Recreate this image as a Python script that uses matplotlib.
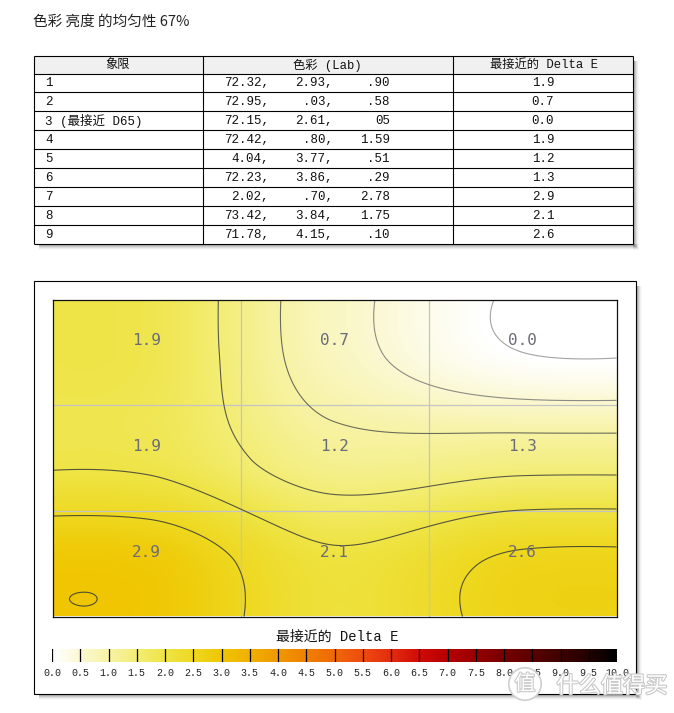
import numpy as np
import matplotlib
matplotlib.use("Agg")
import matplotlib.pyplot as plt
from matplotlib.colors import LinearSegmentedColormap
from matplotlib.patches import Rectangle
import matplotlib.patheffects as pe

# ---------------- data ----------------
title = "色彩 亮度 的均匀性 67%"
header = ["象限", "色彩 (Lab)", "最接近的 Delta E"]
quadrants = ["1", "2", "3 (最接近 D65)", "4", "5", "6", "7", "8", "9"]
lab_L = ["72.32,", "72.95,", "72.15,", "72.42,", "4.04,", "72.23,", "2.02,", "73.42,", "71.78,"]
lab_a = ["2.93,", ".03,", "2.61,", ".80,", "3.77,", "3.86,", ".70,", "3.84,", "4.15,"]
lab_b = [".90", ".58", "05", "1.59", ".51", ".29", "2.78", "1.75", ".10"]
delta_e = [1.9, 0.7, 0.0, 1.9, 1.2, 1.3, 2.9, 2.1, 2.6]
contour_levels = [0.0, 0.5, 1.0, 1.5, 2.0, 2.5, 3.0]
contour_colors = ["#a4a4a4", "#8c8c84", "#6c6c5a", "#5c5c46", "#55553a", "#515132", "#4e4e2e"]
cbar_ticks = [0.0, 0.5, 1.0, 1.5, 2.0, 2.5, 3.0, 3.5, 4.0, 4.5, 5.0,
              5.5, 6.0, 6.5, 7.0, 7.5, 8.0, 8.5, 9.0, 9.5, 10.0]
cbar_label = "最接近的 Delta E"
cmap_colors = ["#ffffff", "#fbf8d2", "#f7f3a4", "#f3ed74", "#efe444", "#eed820",
               "#f0c600", "#f0b000", "#f09800", "#f08000", "#f06808", "#ee4c10",
               "#e42c10", "#d00c08", "#b80000", "#980000", "#780000", "#5c0000",
               "#400000", "#240000", "#000000"]

W, H = 674, 713
MONO = ["Liberation Mono", "Noto Sans CJK SC"]
CJK = ["Noto Sans CJK SC", "DejaVu Sans"]

cmap = LinearSegmentedColormap.from_list("de", list(zip(np.array(cbar_ticks) / 10.0, cmap_colors)))

fig = plt.figure(figsize=(W / 100, H / 100), dpi=100)
fig.patch.set_facecolor("white")


def frac(x0, y0, x1, y1):
    return [x0 / W, 1 - y1 / H, (x1 - x0) / W, (y1 - y0) / H]


bg = fig.add_axes([0, 0, 1, 1])
bg.set_xlim(0, W)
bg.set_ylim(H, 0)
bg.axis("off")


def shadow(x0, y0, x1, y1):
    for i, a in enumerate([0.45, 0.32, 0.22, 0.13, 0.06]):
        off = 2 + i
        bg.add_patch(Rectangle((x1, y0 + 5), off, (y1 - y0) + off - 5, fc="#666666",
                               ec="none", alpha=a * 0.55, zorder=0))
        bg.add_patch(Rectangle((x0 + 5, y1), (x1 - x0) + off - 5, off, fc="#666666",
                               ec="none", alpha=a * 0.55, zorder=0))


# title
bg.text(33, 22, title, family=CJK, fontsize=10.5, color="#222222", va="center", ha="left")

# ---------------- table ----------------
tx = [33.5, 202.5, 452.5, 632.5]
ty0, thead = 55.5, 73.5
rh = (244.0 - thead) / len(quadrants)
tbot = thead + rh * len(quadrants)
shadow(tx[0], ty0, tx[3], tbot)
bg.add_patch(Rectangle((tx[0], ty0), tx[3] - tx[0], tbot - ty0, fc="white", ec="none", zorder=1))
bg.add_patch(Rectangle((tx[0], ty0), tx[3] - tx[0], thead - ty0, fc="#f0f0f0", ec="none", zorder=1))
lw = 0.8
for y in [ty0, thead] + [thead + rh * (i + 1) for i in range(len(quadrants))]:
    bg.plot([tx[0], tx[3]], [y, y], color="black", lw=lw, zorder=3, solid_capstyle="butt")
for x in tx:
    bg.plot([x, x], [ty0, tbot], color="black", lw=lw, zorder=3, solid_capstyle="butt")
hc = [(tx[0] + tx[1]) / 2, (tx[1] + tx[2]) / 2, (tx[2] + tx[3]) / 2 + 1]
for c, h in zip(hc, header):
    bg.text(c, (ty0 + thead) / 2 + 0.5, h, family=MONO, fontsize=8.8, ha="center", va="center",
            color="#111111", zorder=4)
for i in range(len(quadrants)):
    yc = thead + rh * (i + 0.5) + 0.5
    bg.text(45, yc, quadrants[i], family=MONO, fontsize=9, ha="left", va="center", color="#111111", zorder=4)
    bg.text(269, yc, lab_L[i], family=MONO, fontsize=9, ha="right", va="center", color="#111111", zorder=4)
    bg.text(333, yc, lab_a[i], family=MONO, fontsize=9, ha="right", va="center", color="#111111", zorder=4)
    bg.text(390, yc, lab_b[i], family=MONO, fontsize=9, ha="right", va="center", color="#111111", zorder=4)
    bg.text(543, yc, f"{delta_e[i]:.1f}", family=MONO, fontsize=9, ha="center", va="center",
            color="#111111", zorder=4)

# ---------------- outer frame ----------------
ox0, oy0, ox1, oy1 = 33.5, 280.5, 635.5, 693.5
shadow(ox0, oy0, ox1, oy1)
bg.add_patch(Rectangle((ox0, oy0), ox1 - ox0, oy1 - oy0, fc="white", ec="black", lw=lw, zorder=2))

# ---------------- heat map ----------------
V = np.array(delta_e).reshape(3, 3)


def spline_weights(n_fine, n, c=0.76):
    # cardinal-spline weights with edge clamping, samples over [-0.5, n-0.5]
    pos = np.linspace(-0.5, n - 0.5, n_fine)
    Wm = np.zeros((n_fine, n))
    for k, p in enumerate(pos):
        i = int(np.floor(p))
        u = p - i
        h00 = 2 * u**3 - 3 * u**2 + 1
        h10 = u**3 - 2 * u**2 + u
        h01 = -2 * u**3 + 3 * u**2
        h11 = u**3 - u**2
        w = [-c / 2 * h10, h00 - c / 2 * h11, h01 + c / 2 * h10, c / 2 * h11]
        for j, wj in zip(range(i - 1, i + 3), w):
            Wm[k, min(max(j, 0), n - 1)] += wj
    return pos, Wm


xs, Wx = spline_weights(400, 3)
ys, Wy = spline_weights(240, 3)
field = Wy @ V @ Wx.T

ax = fig.add_axes(frac(52.5, 299.5, 616.5, 616.5))
ax.imshow(field, cmap=cmap, vmin=0, vmax=10, extent=[-0.5, 2.5, 2.5, -0.5],
          aspect="auto", interpolation="bilinear", zorder=0)
XX, YY = np.meshgrid(xs, ys)
ax.contour(XX, YY, field, levels=contour_levels, colors=contour_colors, linewidths=0.8,
           zorder=2)
for g in [0.5, 1.5]:
    ax.axvline(g, color="#c4c4c4", lw=0.9, zorder=1)
    ax.axhline(g, color="#c4c4c4", lw=0.9, zorder=1)
for r in range(3):
    for c in range(3):
        ax.text(c, r - 0.11, f"{V[r, c]:.1f}", family="DejaVu Sans Mono", fontsize=11.5,
                color="#6c6c78", ha="center", va="center", zorder=3)
ax.set_xlim(-0.5, 2.5)
ax.set_ylim(2.5, -0.5)
ax.set_xticks([])
ax.set_yticks([])
for s in ax.spines.values():
    s.set_color("#111111")
    s.set_linewidth(0.9)

# datacolor logo
bg.text(474, 601, "datacolor", family="DejaVu Sans", fontweight="bold", fontsize=10.5,
        color="white", ha="left", va="center", zorder=5)
bg.add_patch(Rectangle((554, 597), 53, 9, fc="#ee3038", ec="none", zorder=5))
bg.plot([474, 607], [608, 608], color="white", lw=0.8, zorder=5)

# ---------------- colour bar ----------------
bg.text(337, 637, cbar_label, family=MONO, fontsize=10, ha="center", va="center", color="#111111", zorder=4)
cax = fig.add_axes(frac(52, 649, 617, 662))
grad = np.linspace(0, 10, 600).reshape(1, -1)
cax.imshow(grad, cmap=cmap, vmin=0, vmax=10, extent=[0, 10, 0, 1], aspect="auto")
for t in cbar_ticks[:-1]:
    cax.axvline(t, color="black", lw=0.9)
cax.set_xlim(0, 10)
cax.set_ylim(0, 1)
cax.axis("off")
for t in cbar_ticks:
    x = 52 + (617 - 52) * t / 10.0
    bg.text(x, 673, f"{t:.1f}", family="Liberation Mono", fontsize=7.2, ha="center", va="center",
            color="#222222", zorder=4)

# watermark
wm_fx = [pe.withStroke(linewidth=1.6, foreground="#c9c9c9")]
bg.text(525, 684, "值", family=CJK, fontsize=15, color="white", ha="center", va="center",
        zorder=8, path_effects=wm_fx,
        bbox=dict(boxstyle="circle,pad=0.25", fc="white", ec="#cfcfcf", lw=1.2))
bg.text(612, 686, "什么值得买", family=CJK, fontsize=16, color="white", ha="center", va="center",
        zorder=8, path_effects=wm_fx)

fig.savefig("out.png", dpi=100, facecolor="white")
